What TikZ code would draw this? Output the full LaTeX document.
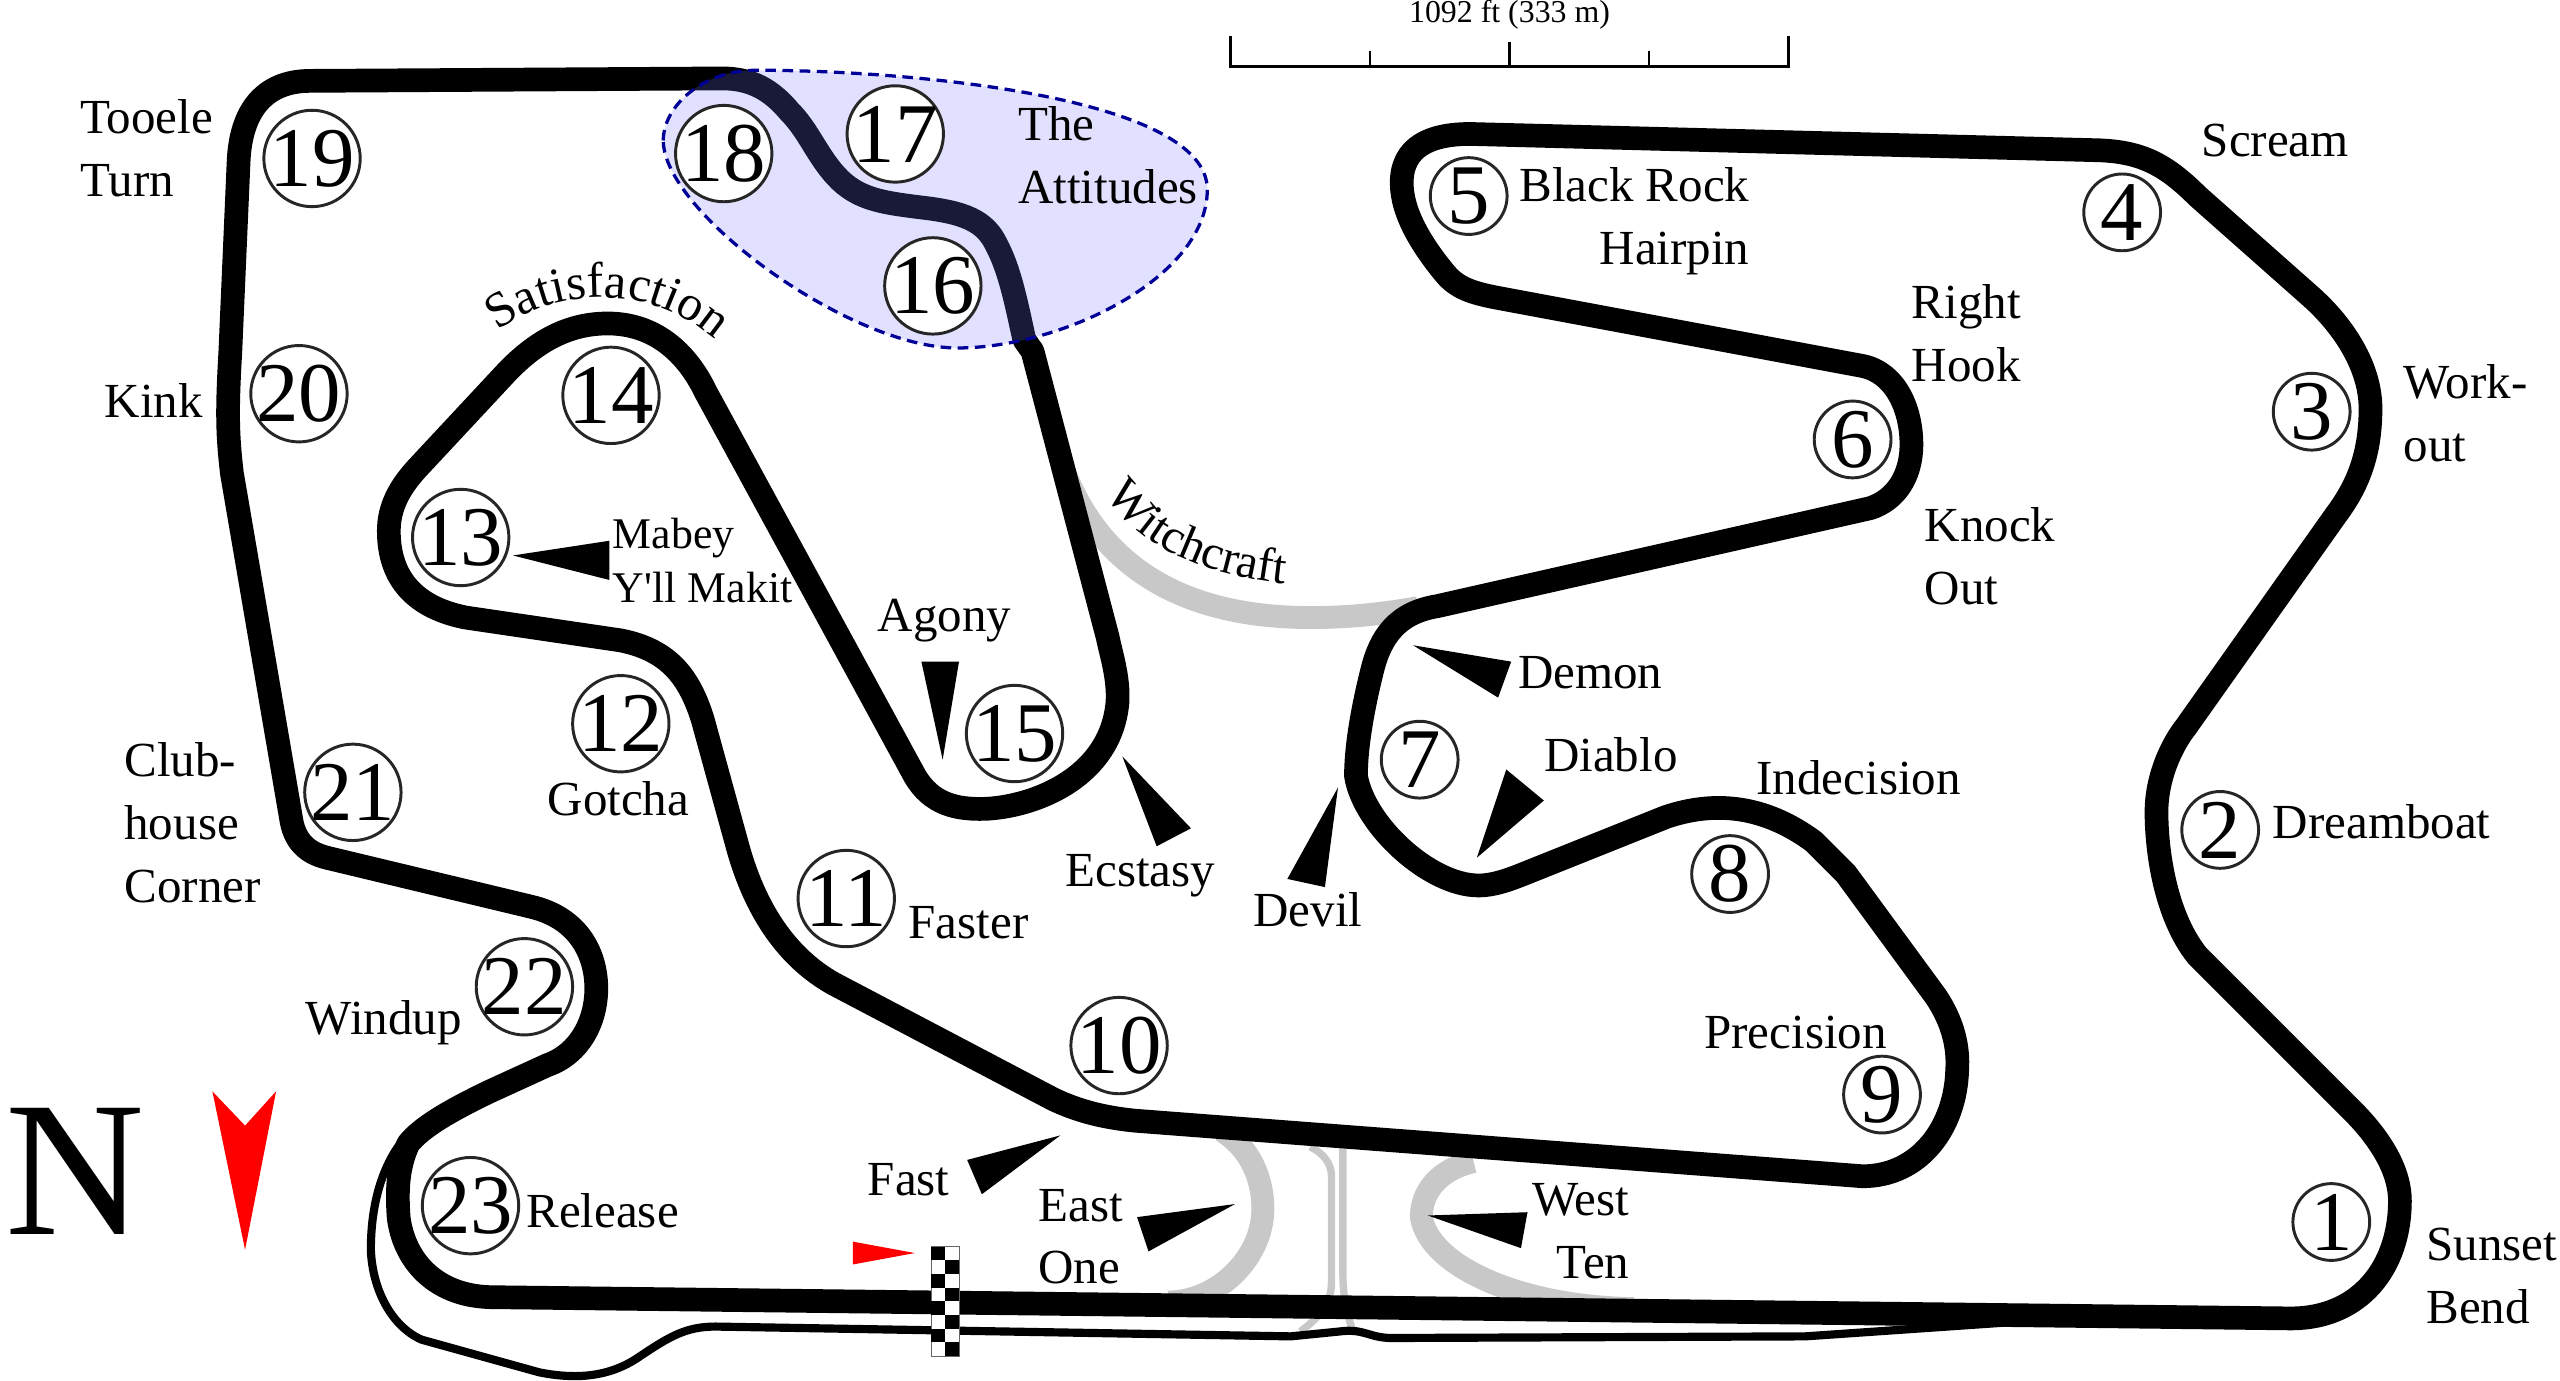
\documentclass[tikz,border=0pt]{standalone}
\usepackage{fontspec}
\setmainfont{Liberation Serif}
\usetikzlibrary{decorations.text}

\begin{document}
\begin{tikzpicture}[x=1pt, y=-1pt]
            % Define styles
            \tikzstyle{track} = [line width=14.5pt, line join=round, black]
            \tikzstyle{runoff} = [line width=14pt, color={rgb,255:red,200;green,200;blue,200}]
            \tikzstyle{lane} = [line width=4.5pt, color={rgb,255:red,200;green,200;blue,200}]
            \tikzstyle{pointer} = [fill=black, draw=none]
            \tikzstyle{redmark} = [fill=red, draw=none]
            \tikzstyle{bigturn} = [draw=black!85, line width=1.8pt, fill=white, circle, inner sep=-4pt, minimum size=59pt, font=\fontsize{52}{52}\selectfont]
            \tikzstyle{smallturn} = [draw=black!85, line width=1.8pt, fill=white, circle, inner sep=-4pt, minimum size=47pt, font=\fontsize{52}{52}\selectfont]
            \tikzstyle{lbl} = [inner sep=0pt, anchor=west, align=left, font=\fontsize{30}{38.5}\selectfont]
            \tikzstyle{lblr} = [inner sep=0pt, anchor=east, align=right, font=\fontsize{30}{38.5}\selectfont]

            \useasboundingbox (0,0) rectangle (1567,845.3);

            % Side roads under the track
            \draw[runoff] (650,285) .. controls (665,325) and (700,378) .. (802,378) .. controls (825,378) and (845,376) .. (868,372);
            \draw[runoff] (748,692) .. controls (768,705) and (773,725) .. (773,740) .. controls (773,770) and (745,797) .. (715,797);
            \draw[runoff] (902,711) .. controls (880,716) and (870,730) .. (870,745) .. controls (875,775) and (930,800) .. (1000,801);
            \draw[lane] (802,702) .. controls (810,706) and (815,712) .. (815,720) -- (815,785) .. controls (815,800) and (805,808) .. (796,815);
            \draw[lane] (822,703) -- (822,780) .. controls (822,795) and (825,805) .. (828,815);

            % Outer loop
            \draw[line width=5pt, line join=round] (250,694) .. controls (235,710) and (227,735) .. (227,765) .. controls (228,790) and (240,812) .. (258,820) -- (330,840) .. controls (355,845) and (375,842) .. (392,830) .. controls (410,818) and (420,812) .. (438,812) -- (790,818) -- (820,815) .. controls (835,813) and (838,819) .. (852,819) -- (1105,818) -- (1250,808);

            % Main track
            \draw[track] (300,794) -- (1400,807) .. controls (1445,808) and (1469,775) .. (1469,735) .. controls (1469,715) and (1455,695) .. (1440,680)
                -- (1345,585) .. controls (1325,560) and (1320,520) .. (1320,497) .. controls (1320,475) and (1330,455) .. (1338,445)
                -- (1430,315) .. controls (1445,295) and (1451,275) .. (1451,250) .. controls (1451,225) and (1435,200) .. (1415,182)
                -- (1345,120) .. controls (1325,100) and (1310,93) .. (1285,92)
                -- (900,82) .. controls (875,82) and (858,90) .. (858,112) .. controls (858,130) and (870,150) .. (885,168) .. controls (892,176) and (900,179) .. (915,182)
                -- (1140,224) .. controls (1160,228) and (1170,250) .. (1170,272) .. controls (1170,292) and (1160,306) .. (1145,311)
                -- (880,371) .. controls (855,375) and (845,390) .. (840,410) .. controls (835,430) and (830,455) .. (830,475) .. controls (835,505) and (875,542) .. (905,542) .. controls (915,542) and (925,538) .. (935,534)
                -- (1020,500) .. controls (1050,490) and (1080,493) .. (1110,515) -- (1130,535)
                -- (1185,610) .. controls (1195,625) and (1199,640) .. (1198,655) .. controls (1197,690) and (1175,720) .. (1140,720)
                -- (695,686) .. controls (675,684) and (660,680) .. (645,673)
                -- (510,602) .. controls (480,585) and (462,555) .. (452,520)
                -- (430,440) .. controls (422,415) and (410,398) .. (380,392)
                -- (285,378) .. controls (255,372) and (238,355) .. (238,325) .. controls (238,310) and (245,298) .. (255,287)
                -- (310,228) .. controls (330,207) and (350,198) .. (372,198) .. controls (400,198) and (420,215) .. (432,240)
                -- (560,475) .. controls (570,492) and (585,496) .. (605,495) .. controls (635,493) and (680,475) .. (684,430) .. controls (685,415) and (680,400) .. (678,390)
                -- (632,215) -- (627,208) .. controls (622,185) and (618,165) .. (610,150) .. controls (603,135) and (590,130) .. (564,127) .. controls (540,124) and (525,122) .. (512,108) .. controls (500,95) and (495,80) .. (483,68) .. controls (472,55) and (460,48) .. (442,48)
                -- (190,49.5) .. controls (160,49.5) and (147,70) .. (146,100)
                -- (141,215) .. controls (139,250) and (139,265) .. (142,290)
                -- (178,500) .. controls (180,515) and (188,522) .. (200,525)
                -- (325,555) .. controls (355,562) and (365,585) .. (365,605) .. controls (365,625) and (355,645) .. (335,652)
                -- (300,668) .. controls (275,680) and (258,690) .. (250,700) .. controls (243,715) and (243,730) .. (244,745) .. controls (247,770) and (265,793) .. (300,794) -- cycle;

            % The shaded corner group
            \fill[color={rgb,255:red,118;green,118;blue,255}, opacity=0.22] (406,86) .. controls (406,65) and (430,43) .. (463,43) .. controls (560,43) and (739,60) .. (739,116) .. controls (739,170) and (650,213) .. (586,213) .. controls (520,213) and (406,130) .. (406,86);
            \draw[color={rgb,255:red,0;green,0;blue,150}, line width=2pt, dash pattern=on 6.5pt off 4pt] (406,86) .. controls (406,65) and (430,43) .. (463,43) .. controls (560,43) and (739,60) .. (739,116) .. controls (739,170) and (650,213) .. (586,213) .. controls (520,213) and (406,130) .. (406,86);

            % Start line
            \draw[black!60, fill=white, line width=0.5pt] (570,763) rectangle (587,830);
            \foreach \i in {0,...,7}
                \fill[black] ({570+8.5*mod(\i,2)},{763+8.375*\i}) rectangle ++(8.5,8.375);

            % Scale bar
            \draw[line width=1.8pt] (753,22) -- (753,40.5) -- (1095,40.5) -- (1095,22);
            \draw[line width=1.5pt] (924,26) -- (924,40.5);
            \draw[line width=1.5pt] (838.5,31) -- (838.5,40.5);
            \draw[line width=1.5pt] (1009.5,31) -- (1009.5,40.5);
            \node[font=\fontsize{19.5}{24}\selectfont, inner sep=0pt] (scale) at (924,9) {1092 ft (333 m)};

            % North and direction marks
            \node[inner sep=0pt, font=\fontsize{118}{118}\selectfont] (north) at (46,717) {N};
            \fill[redmark] (130,668) -- (150,689) -- (169,668) -- (150,765) -- cycle;
            \fill[redmark] (522,760) -- (560,767) -- (522,774) -- cycle;

            % Pointers
            \fill[pointer] (649,695) -- (592,710) -- (601,731) -- cycle;
            \fill[pointer] (756,737) -- (696,745) -- (703,766) -- cycle;
            \fill[pointer] (874,744) -- (935,742) -- (931,764) -- cycle;
            \fill[pointer] (314,340) -- (373,331) -- (373,355) -- cycle;
            \fill[pointer] (577,465) -- (564,405) -- (587,405) -- cycle;
            \fill[pointer] (687,463) -- (729,507) -- (708,518) -- cycle;
            \fill[pointer] (865,395) -- (925,405) -- (917,427) -- cycle;
            \fill[pointer] (904,525) -- (922,471) -- (945,490) -- cycle;
            \fill[pointer] (819,482) -- (788,538) -- (811,543) -- cycle;

            % Turn numbers
            \node[smallturn] (t1) at (1427,748) {1};
            \node[smallturn] (t2) at (1359,508) {2};
            \node[smallturn] (t3) at (1415,252) {3};
            \node[smallturn] (t4) at (1299,130) {4};
            \node[smallturn] (t5) at (899,120) {5};
            \node[smallturn] (t6) at (1134,269) {6};
            \node[smallturn] (t7) at (869,465) {7};
            \node[smallturn] (t8) at (1059,535) {8};
            \node[smallturn] (t9) at (1152,670) {9};
            \node[bigturn] (t10) at (685,640) {10};
            \node[bigturn] (t11) at (518,550) {11};
            \node[bigturn] (t12) at (380,443) {12};
            \node[bigturn] (t13) at (282,329) {13};
            \node[bigturn] (t14) at (374,242) {14};
            \node[bigturn] (t15) at (621,449) {15};
            \node[bigturn] (t16) at (571,175) {16};
            \node[bigturn] (t17) at (548,82) {17};
            \node[bigturn] (t18) at (443,94) {18};
            \node[bigturn] (t19) at (191,97) {19};
            \node[bigturn] (t20) at (183,241) {20};
            \node[bigturn] (t21) at (216,485) {21};
            \node[bigturn] (t22) at (321,604) {22};
            \node[bigturn] (t23) at (288,738) {23};

            % Corner names
            \node[lbl] (tooele) at (49,91) {Tooele\\Turn};
            \node[lbl] (kink) at (64,245) {Kink};
            \node[lbl] (club) at (76,503.5) {Club-\\house\\Corner};
            \node[lbl] (windup) at (187,626) {Windup};
            \node[lbl] (release) at (322,741) {Release};
            \node[lbl] (gotcha) at (335,489) {Gotcha};
            \node[lbl] (faster) at (556,565) {Faster};
            \node[lbl] (fast) at (531,722) {Fast};
            \node[lbl] (east) at (635.5,757) {East\\One};
            \node[lblr] (west) at (997.5,753.5) {West\\Ten};
            \node[lbl] (sunset) at (1485,781) {Sunset\\Bend};
            \node[lbl] (dreamboat) at (1391,503) {Dreamboat};
            \node[lbl] (precision) at (1043,632) {Precision};
            \node[lbl] (indecision) at (1075,476) {Indecision};
            \node[lbl] (diablo) at (945,462) {Diablo};
            \node[lbl] (demon) at (929,412) {Demon};
            \node[lbl] (devil) at (767,557) {Devil};
            \node[lbl] (ecstasy) at (652,536) {Ecstasy};
            \node[lbl] (agony) at (537,380) {Agony};
            \node[lbl, font=\fontsize{26.8}{33}\selectfont] (mabey) at (375,343) {Mabey\\Y\textquotesingle ll Makit};
            \node[lbl] (knock) at (1178,340.5) {Knock\\Out};
            \node[lbl] (hook) at (1170,204) {Right\\Hook};
            \node[lbl] (workout) at (1471,253) {Work-\\out};
            \node[lbl] (scream) at (1347.5,86) {Scream};
            \node[lblr] (hairpin) at (1071,135.5) {Black Rock\\Hairpin};
            \node[lbl] (attitudes) at (623,95) {The\\Attitudes};

            % Names that follow the track
            \path[decorate, decoration={text along path, text align=center, text={|\fontsize{30.5}{36}\selectfont|Satisfaction}}] (298,208) .. controls (335,175) and (400,170) .. (444,214);
            \path[decorate, decoration={text along path, text align=center, text={|\fontsize{29.6}{36}\selectfont|Witchcraft}}] (674,296) .. controls (691,335) and (741,354) .. (794,358);
        \end{tikzpicture}
\end{document}
